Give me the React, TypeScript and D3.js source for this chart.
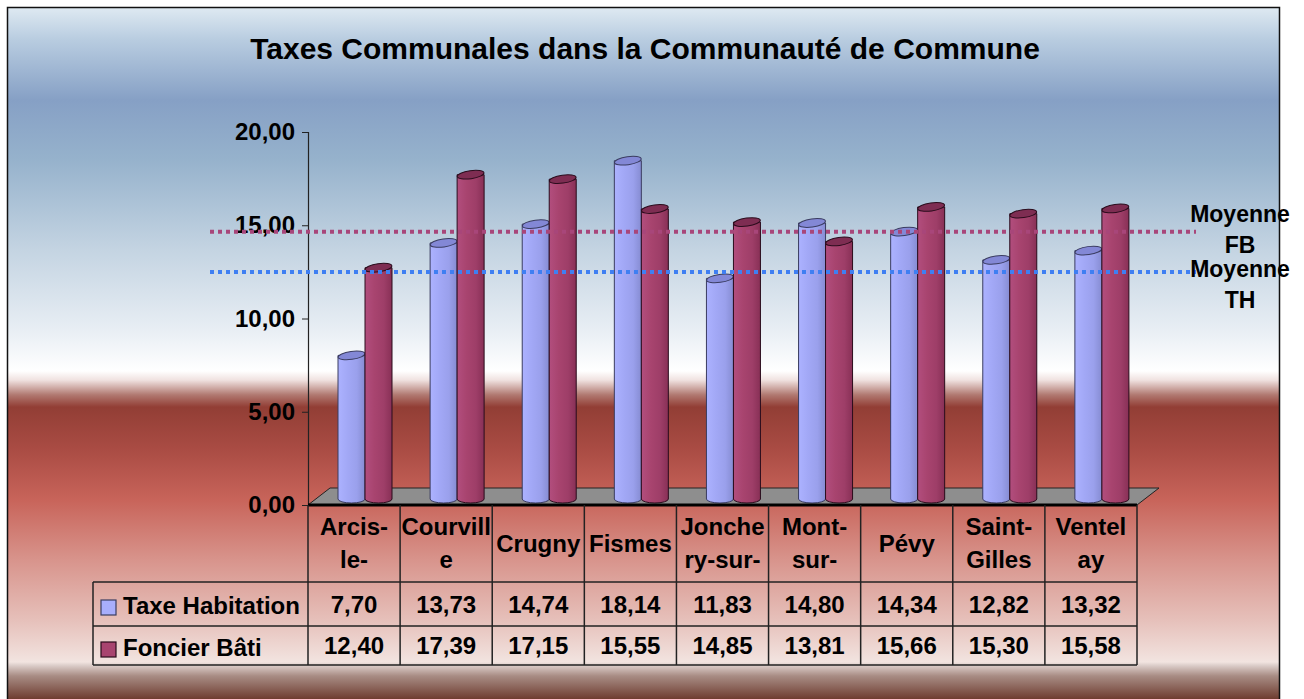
import React, { useRef, useEffect } from 'react';
import * as d3 from 'd3';

// Data
const communes = ['Arcis-le-', 'Courville', 'Crugny', 'Fismes', 'Jonchery-sur-', 'Mont-sur-', 'Pévy', 'Saint-Gilles', 'Ventelay'];
const communeLines = [['Arcis-', 'le-'], ['Courvill', 'e'], ['Crugny'], ['Fismes'], ['Jonche', 'ry-sur-'], ['Mont-', 'sur-'], ['Pévy'], ['Saint-', 'Gilles'], ['Ventel', 'ay']];
const taxeHabitation = [7.70, 13.73, 14.74, 18.14, 11.83, 14.80, 14.34, 12.82, 13.32];
const foncierBati = [12.40, 17.39, 17.15, 15.55, 14.85, 13.81, 15.66, 15.30, 15.58];
const seriesNames = ['Taxe Habitation', 'Foncier Bâti'];
const yTicks = [0, 5, 10, 15, 20];
const moyenneFB = 14.65;
const moyenneTH = 12.5;

const FONT = "'Liberation Sans', Arial, sans-serif";
const fmt = (v: number) => v.toFixed(2).replace('.', ',');

const Chart = () => {
    const svgRef = useRef<SVGSVGElement>(null);

    useEffect(() => {
        const svg = d3.select(svgRef.current);
        svg.selectAll('*').remove();

        const left = 308, right = 1137, top = 132, bottom = 505;
        const depthX = 22, depthY = 17;
        const barShiftY = 6;

        const x = d3.scaleBand().domain(communes).range([left, right]).paddingInner(0).paddingOuter(0);
        const inner = d3.scaleBand().domain(['TH', 'FB']).range([30, 84]);
        const y = d3.scaleLinear().domain([0, 20]).range([bottom, top]);

        const defs = svg.append('defs');
        const bg = defs.append('linearGradient').attr('id', 'bg')
            .attr('gradientUnits', 'userSpaceOnUse').attr('x1', 0).attr('y1', 7).attr('x2', 0).attr('y2', 699);
        const bgStops: [number, string][] = [
            [7, '#dfeaf2'], [40, '#b8cce0'], [100, '#86a0c5'], [160, '#96b2cc'], [250, '#c4d4e2'],
            [330, '#e8eef4'], [371, '#ffffff'], [380, '#f0e2e0'], [395, '#b07870'], [407, '#923e35'],
            [450, '#aa4c44'], [500, '#c8645a'], [560, '#d8948c'], [620, '#e6c0ba'], [662, '#f2e4e0'],
            [665, '#ded0cc'], [676, '#a88c84'], [699, '#6e3c30']
        ];
        bgStops.forEach(([p, c]) => bg.append('stop').attr('offset', (p - 7) / 692).attr('stop-color', c));

        const barGrad = (id: string, cols: string[]) => {
            const g = defs.append('linearGradient').attr('id', id).attr('x1', 0).attr('x2', 1).attr('y1', 0).attr('y2', 0);
            [0, 0.35, 0.7, 1].forEach((o, i) => g.append('stop').attr('offset', o).attr('stop-color', cols[i]));
        };
        barGrad('gTH', ['#acb2ff', '#a2a8f6', '#9aa0ec', '#868cd2']);
        barGrad('gFB', ['#b24e7e', '#a8446f', '#9e3e68', '#883056']);

        // background + frame
        svg.append('rect').attr('x', 7).attr('y', 7).attr('width', 1273).attr('height', 692).attr('fill', 'url(#bg)');
        svg.append('path').attr('d', 'M7.5,699 V7.5 H1279.5 V699').attr('fill', 'none').attr('stroke', '#111').attr('stroke-width', 1.5);

        // title
        svg.append('text').attr('x', 645).attr('y', 59).attr('text-anchor', 'middle')
            .style('font', `bold 30px ${FONT}`).text('Taxes Communales dans la Communauté de Commune');

        // floor
        svg.append('polygon')
            .attr('points', [[left, bottom], [left + depthX, bottom - depthY], [right + depthX, bottom - depthY], [right, bottom]].map(p => p.join(',')).join(' '))
            .attr('fill', '#8e8e8e').attr('stroke', '#222').attr('stroke-width', 1);

        // y axis
        const yAxis = d3.axisLeft(y).tickValues(yTicks).tickSize(6).tickPadding(7).tickFormat(d => fmt(+d));
        const ax = svg.append('g').attr('transform', `translate(${left},0)`).call(yAxis);
        ax.select('.domain').attr('stroke', '#222').attr('stroke-width', 1.2);
        ax.selectAll('line').attr('stroke', '#222');
        ax.selectAll('text').style('font', `bold 24px ${FONT}`).attr('fill', '#000');

        // cylinders
        const series = [
            { key: 'TH', values: taxeHabitation, fill: 'url(#gTH)', topFill: '#8388d6', stroke: '#3a3c60' },
            { key: 'FB', values: foncierBati, fill: 'url(#gFB)', topFill: '#7e2d52', stroke: '#2a0c1c' }
        ];
        const bw = 27, ry = 4;
        series.forEach(s => {
            const g = svg.append('g');
            s.values.forEach((v, i) => {
                const x0 = (x(communes[i]) as number) + (inner(s.key) as number);
                const yb = y(0) - barShiftY;
                const yt = y(v) - barShiftY;
                const cx = x0 + bw / 2;
                g.append('path')
                    .attr('d', `M${x0},${yt} L${x0},${yb} A${bw / 2},${ry} 0 0 0 ${x0 + bw},${yb} L${x0 + bw},${yt} Z`)
                    .attr('fill', s.fill).attr('stroke', s.stroke).attr('stroke-width', 1);
                g.append('ellipse').attr('cx', cx).attr('cy', yt).attr('rx', bw / 2).attr('ry', ry)
                    .attr('transform', `rotate(-8,${cx},${yt})`)
                    .attr('fill', s.topFill).attr('stroke', s.stroke).attr('stroke-width', 1);
            });
        });

        // average lines
        const avg = [
            { v: moyenneFB, color: '#a8467a', label: 'FB', y1: 222 },
            { v: moyenneTH, color: '#3f7ff2', label: 'TH', y1: 277 }
        ];
        avg.forEach(a => {
            svg.append('line').attr('x1', 210).attr('x2', 1196).attr('y1', y(a.v)).attr('y2', y(a.v))
                .attr('stroke', a.color).attr('stroke-width', 4).attr('stroke-dasharray', '4 4');
            const t = svg.append('text').attr('text-anchor', 'middle').style('font', `bold 23px ${FONT}`);
            t.append('tspan').attr('x', 1240).attr('y', a.y1).text('Moyenne');
            t.append('tspan').attr('x', 1240).attr('y', a.y1 + 31).text(a.label);
        });

        // data table
        const rowTop = 582, rowMid = 626, rowBot = 665, legLeft = 93;
        const tbl = svg.append('g').attr('stroke', '#222').attr('stroke-width', 1.5);
        tbl.append('line').attr('x1', left).attr('x2', right).attr('y1', bottom).attr('y2', bottom).attr('stroke', '#000').attr('stroke-width', 3);
        [rowTop, rowMid, rowBot].forEach(yy => tbl.append('line').attr('x1', legLeft).attr('x2', right).attr('y1', yy).attr('y2', yy));
        tbl.append('line').attr('x1', legLeft).attr('x2', legLeft).attr('y1', rowTop).attr('y2', rowBot);
        communes.forEach(c => tbl.append('line').attr('x1', x(c) as number).attr('x2', x(c) as number).attr('y1', bottom).attr('y2', rowBot));
        tbl.append('line').attr('x1', right).attr('x2', right).attr('y1', bottom).attr('y2', rowBot);

        const txt = svg.append('g').style('font', `bold 24px ${FONT}`).attr('text-anchor', 'middle');
        communeLines.forEach((lines, i) => {
            const cx = (x(communes[i]) as number) + x.bandwidth() / 2;
            const base = lines.length === 1 ? [552] : [535, 568];
            lines.forEach((l, j) => txt.append('text').attr('x', cx).attr('y', base[j]).text(l));
            txt.append('text').attr('x', cx).attr('y', 613).text(fmt(taxeHabitation[i]));
            txt.append('text').attr('x', cx).attr('y', 654).text(fmt(foncierBati[i]));
        });

        // legend keys
        const legRows = [
            { name: seriesNames[0], fill: '#a8aefc', stroke: '#3a3c60', y: 600, ty: 614 },
            { name: seriesNames[1], fill: '#a8446f', stroke: '#2a0c1c', y: 642, ty: 656 }
        ];
        legRows.forEach(r => {
            svg.append('rect').attr('x', 101).attr('y', r.y).attr('width', 15).attr('height', 15)
                .attr('fill', r.fill).attr('stroke', r.stroke).attr('stroke-width', 1.2);
            svg.append('text').attr('x', 123).attr('y', r.ty).style('font', `bold 24px ${FONT}`).text(r.name);
        });
    }, []);

    return (
        <div style={{ position: 'absolute', left: 0, top: 0 }}>
            <svg ref={svgRef} width={1304} height={699} style={{ display: 'block', background: '#fff' }} />
        </div>
    );
};

export default function App() {
    return <Chart />;
}
